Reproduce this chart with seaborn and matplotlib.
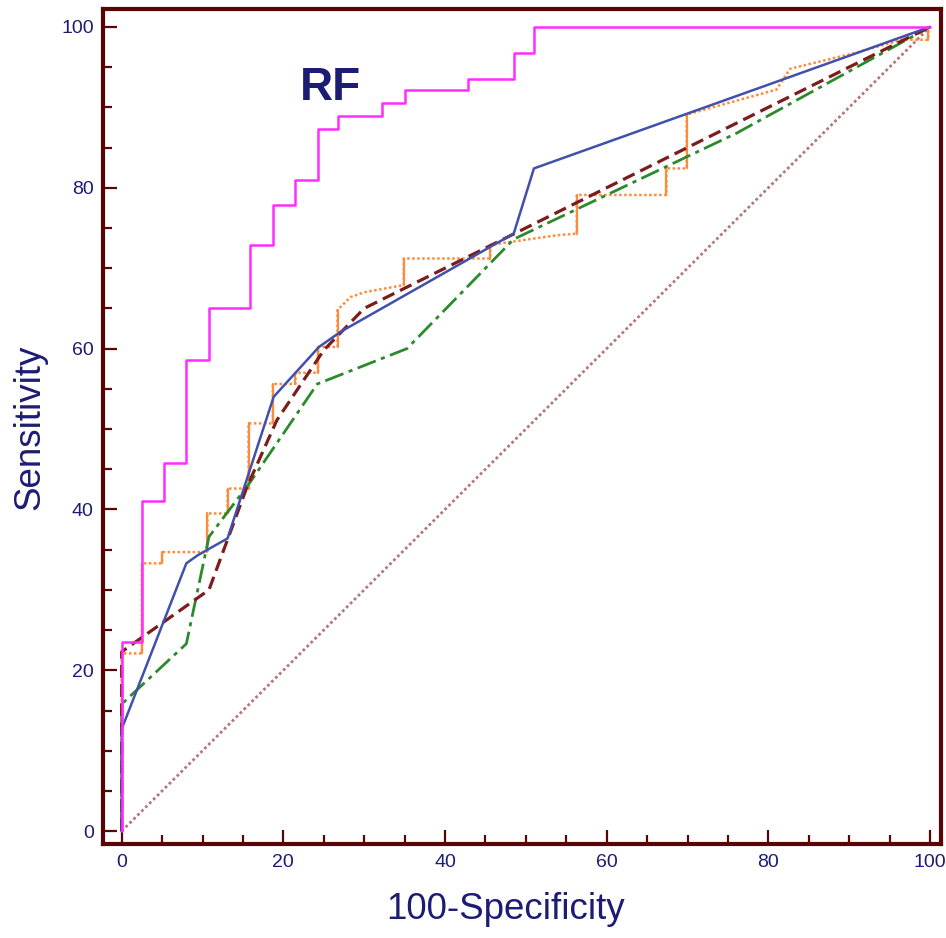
import numpy as np
import pandas as pd
import matplotlib
matplotlib.use("Agg")
import matplotlib.pyplot as plt
import seaborn as sns

# ROC curve vertices (100-Specificity, Sensitivity)
rf_x = [0, 0, 2.5, 5.2, 8.0, 10.8, 15.9, 18.7, 21.5, 24.3, 26.8, 32.2, 35.0, 42.9, 48.5, 51.0, 100]
rf_y = [0, 23.5, 41.0, 45.8, 58.6, 65.0, 72.9, 77.9, 81.0, 87.3, 88.9, 90.5, 92.1, 93.5, 96.7, 100, 100]

blue_x = [0, 0, 8.0, 9.4, 13.1, 18.8, 24.4, 27.1, 48.5, 51.0, 100]
blue_y = [0, 12.7, 33.3, 34.3, 36.4, 54.0, 60.2, 62.1, 74.3, 82.4, 100]

brown_x = [0, 0, 10.8, 15.5, 19.2, 25.0, 30.0, 100]
brown_y = [0, 22.3, 30.0, 42.8, 51.1, 59.8, 65.0, 100]

green_x = [0, 0, 8.0, 10.8, 15.9, 24.2, 35.3, 41.9, 48.5, 76.1, 100]
green_y = [0, 15.8, 23.3, 36.6, 43.4, 55.6, 60.0, 66.8, 73.6, 86.8, 100]

orange_x = [0, 0, 2.5, 2.5, 5.0, 5.0, 10.6, 10.6, 13.1, 13.1, 15.7, 15.7, 18.7, 18.7,
            21.5, 21.5, 24.3, 24.3, 26.7, 26.7, 28.3, 30.0, 34.9, 34.9, 45.6, 45.6,
            53.9, 56.3, 56.3, 67.4, 67.4, 69.9, 69.9, 81.0, 82.7, 90.5, 96.5, 99.8, 99.8]
orange_y = [0, 22.1, 22.1, 33.3, 33.3, 34.7, 34.7, 39.5, 39.5, 42.6, 42.6, 50.7, 50.7, 55.6,
            55.6, 57.0, 57.0, 60.2, 60.2, 64.8, 66.4, 67.0, 67.9, 71.2, 71.2, 72.9,
            74.1, 74.3, 79.1, 79.1, 82.4, 82.4, 89.1, 92.2, 94.8, 96.7, 98.4, 98.4, 100]

diag_x = [0, 100]
diag_y = [0, 100]

x_ticks = [0, 20, 40, 60, 80, 100]
y_ticks = [0, 20, 40, 60, 80, 100]

navy = "#1c1c74"
frame = "#5a0505"


def steps_post(x, y):
    # corner points of a step curve that holds y until the next x
    xs, ys = [x[0]], [y[0]]
    for i in range(1, len(x)):
        xs += [x[i], x[i]]
        ys += [y[i - 1], y[i]]
    return xs, ys


sns.set_style("white")
plt.rcParams["font.family"] = ["Liberation Sans", "DejaVu Sans"]

fig = plt.figure(figsize=(9.46, 9.38), dpi=100)
ax = fig.add_axes([0.1094, 0.1002, 0.9942 - 0.1094, 0.9902 - 0.1002])

# chance line
sns.lineplot(x=diag_x, y=diag_y, ax=ax, color="#b07a7a", lw=2, ls=(0, (1, 1)),
             sort=False, estimator=None)

# orange: dotted steps, vertical risers drawn solid
sns.lineplot(x=orange_x, y=orange_y, ax=ax, color="#ff8a3a", lw=1.8, ls=(0, (1, 1)),
             sort=False, estimator=None)
for i in range(len(orange_x) - 1):
    if orange_x[i] == orange_x[i + 1]:
        ax.plot(orange_x[i:i + 2], orange_y[i:i + 2], color="#ff8a3a", lw=1.6)

sns.lineplot(x=green_x, y=green_y, ax=ax, color="#2b8a2b", lw=2, ls=(0, (7, 2, 1.5, 2)),
             sort=False, estimator=None)
sns.lineplot(x=brown_x, y=brown_y, ax=ax, color="#7d1c1c", lw=2.3, ls=(0, (4, 2)),
             sort=False, estimator=None)
sns.lineplot(x=blue_x, y=blue_y, ax=ax, color="#4150aa", lw=1.8,
             sort=False, estimator=None)
rx, ry = steps_post(rf_x, rf_y)
sns.lineplot(x=rx, y=ry, ax=ax, color="#ff2cff", lw=1.8,
             sort=False, estimator=None)

ax.text(22.1, 90.9, "RF", color=navy, fontsize=33, fontweight="bold",
        ha="left", va="baseline")

ax.set_xlim(-2.25, 101.3)
ax.set_ylim(-1.6, 102.2)
ax.set_xticks(x_ticks)
ax.set_yticks(y_ticks)
ax.set_xticks(np.arange(0, 101, 5), minor=True)
ax.set_yticks(np.arange(0, 101, 5), minor=True)

for s in ax.spines.values():
    s.set_visible(True)
    s.set_color(frame)
    s.set_linewidth(3)

ax.tick_params(which="both", direction="in", color=frame, width=1.6,
               left=True, bottom=True, top=False, right=False)
ax.tick_params(which="major", length=10, pad=7, labelsize=14, labelcolor=navy)
ax.tick_params(which="minor", length=6.5)

ax.set_xlabel("100-Specificity", fontsize=26.5, color=navy)
ax.set_ylabel("Sensitivity", fontsize=26.5, color=navy)
ax.xaxis.set_label_coords(0.48, -0.058)
ax.yaxis.set_label_coords(-0.067, 0.499)

fig.savefig("out.png", dpi=100)
